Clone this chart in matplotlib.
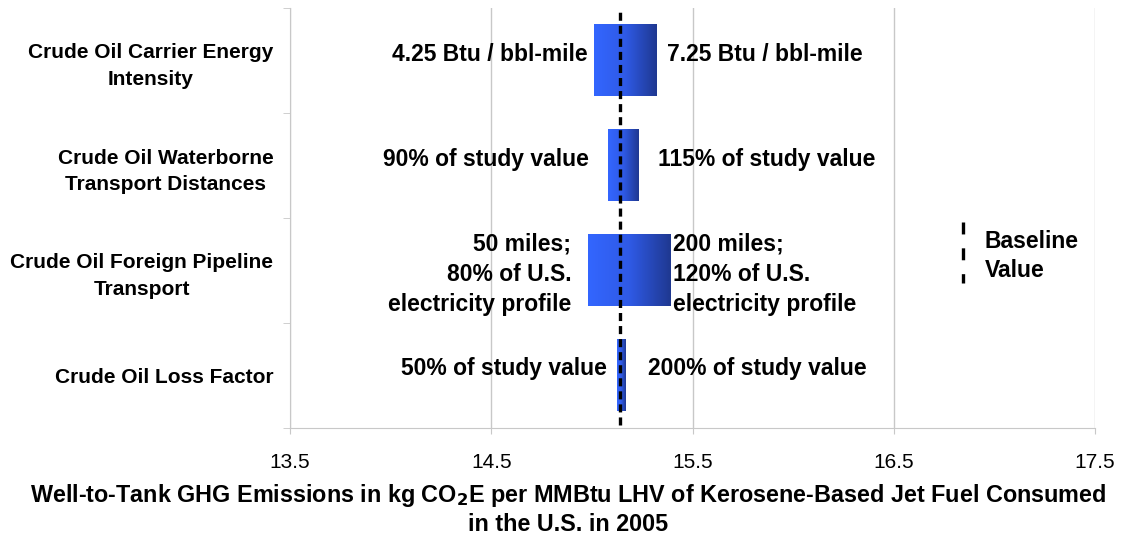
import matplotlib.pyplot as plt
import numpy as np
from matplotlib.colors import LinearSegmentedColormap

plt.rcParams["font.family"] = ["Liberation Sans", "DejaVu Sans"]
plt.rcParams["lines.scale_dashes"] = False

# ---- data ----
categories = [
    "Crude Oil Carrier Energy\nIntensity",
    "Crude Oil Waterborne\nTransport Distances",
    "Crude Oil Foreign Pipeline\nTransport",
    "Crude Oil Loss Factor",
]
baseline = 15.14
low_values = [15.01, 15.08, 14.98, 15.125]
high_values = [15.32, 15.23, 15.39, 15.168]
low_labels = [
    "4.25 Btu / bbl-mile",
    "90% of study value",
    "50 miles;\n80% of U.S.\nelectricity profile",
    "50% of study value",
]
high_labels = [
    "7.25 Btu / bbl-mile",
    "115% of study value",
    "200 miles;\n120% of U.S.\nelectricity profile",
    "200% of study value",
]
xticks = [13.5, 14.5, 15.5, 16.5, 17.5]

# label placement (offsets in points from bar edges)
low_off = [(-4.3, 4.5), (-14, 4.3), (-12, -3), (-7, 5.2)]
high_off = [(8, 4.5), (14, 4.3), (2.2, -3), (16, 5.2)]

grid_c = "#c8c8c8"
cmap = LinearSegmentedColormap.from_list("bar", ["#3366ff", "#2f5ae6", "#1f3890"])

fig = plt.figure(figsize=(11.24, 5.41), dpi=100)
ax = fig.add_axes([290 / 1124, 1 - 428 / 541, 805 / 1124, 420 / 541])

bar_h = 0.68
grad = np.linspace(0, 1, 256).reshape(1, -1)
for i, (lo, hi) in enumerate(zip(low_values, high_values)):
    ax.imshow(grad, cmap=cmap, aspect="auto", interpolation="bicubic",
              extent=(lo, hi, i + bar_h / 2, i - bar_h / 2), zorder=2)
    ax.annotate(low_labels[i], xy=(lo, i), xytext=low_off[i], textcoords="offset points",
                ha="right", va="center", ma="right", fontsize=16.5, fontweight="bold",
                linespacing=1.4)
    ax.annotate(high_labels[i], xy=(hi, i), xytext=high_off[i], textcoords="offset points",
                ha="left", va="center", ma="left", fontsize=16.5, fontweight="bold",
                linespacing=1.4)

ax.set_xlim(13.5, 17.5)
ax.set_ylim(3.5, -0.5)

# baseline dashed line
ax.plot([baseline, baseline], [3.47, -0.5], color="black", lw=2.4,
        dashes=(5.8, 3.6), zorder=3, clip_on=False)

# grid / axes styling
ax.set_xticks(xticks)
ax.set_xticklabels([f"{v:.1f}" for v in xticks], fontsize=15)
ax.xaxis.grid(True, color=grid_c, lw=1)
ax.set_axisbelow(True)
ax.tick_params(axis="x", length=4, color=grid_c, pad=14)
ax.set_yticks(range(len(categories)))
ax.set_yticklabels(categories, fontsize=15, fontweight="bold", ma="center",
                   linespacing=1.5)
ax.set_yticks(np.arange(-0.5, 3.6, 1), minor=True)
ax.tick_params(axis="y", which="major", length=0, pad=12)
ax.tick_params(axis="y", which="minor", length=5, color=grid_c, direction="out")
for s in ["top", "right"]:
    ax.spines[s].set_visible(False)
for s in ["left", "bottom"]:
    ax.spines[s].set_color(grid_c)

# legend-like annotation
fig.lines.append(plt.Line2D([963 / 1124, 963 / 1124], [1 - 222 / 541, 1 - 283 / 541],
                            transform=fig.transFigure, color="black", lw=2.4,
                            dashes=(8.6, 10)))
fig.text(985 / 1124, 1 - 256 / 541, "Baseline\nValue", ha="left", va="center",
         fontsize=16.5, fontweight="bold", linespacing=1.3)

# x label (centered on figure)
fig.text(568 / 1124, 1 - 509 / 541,
         "Well-to-Tank GHG Emissions in kg CO$_\\mathbf{2}$E per MMBtu LHV of Kerosene-Based Jet Fuel Consumed\nin the U.S. in 2005",
         ha="center", va="center", fontsize=16.8, fontweight="bold", linespacing=1.25)

fig.savefig("out.png", dpi=100)
